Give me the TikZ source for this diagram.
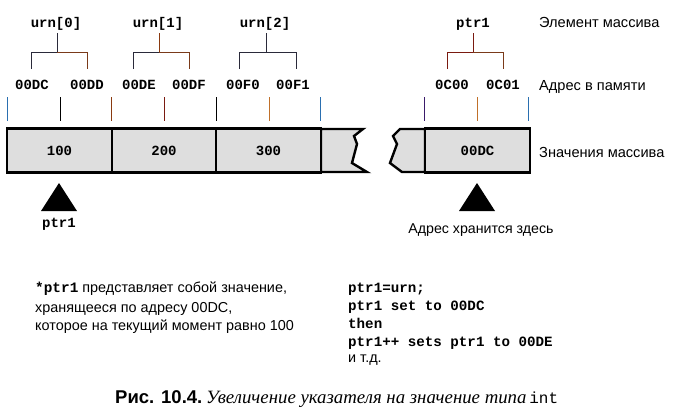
\documentclass[tikz,border=0pt]{standalone}
\usepackage{fontspec}
\setmainfont{Liberation Sans}
\setmonofont{Liberation Mono}
\newfontfamily\capserif{Liberation Serif}
\begin{document}
\begin{tikzpicture}[x=1pt,y=-1pt,
  mono/.style={font=\fontsize{14}{16}\selectfont\ttfamily\bfseries, inner sep=0pt, anchor=base},
  sans/.style={font=\fontsize{14.6}{17}\selectfont, inner sep=0pt, anchor=base west},
  body/.style={font=\fontsize{14.4}{17}\selectfont, inner sep=0pt, anchor=base west},
  codeline/.style={font=\fontsize{14.2}{17}\selectfont\ttfamily\bfseries, inner sep=0pt, anchor=base west},
  cell/.style={draw=black, line width=2.4pt, fill=cellgray, minimum width=104.5pt, minimum height=44pt, inner sep=0pt, font=\fontsize{14}{16}\selectfont\ttfamily\bfseries},
  frag/.style={draw=black, line width=2.4pt, fill=cellgray, line join=miter},
  tick/.style={line width=0.9pt},
  brk/.style={line width=0.9pt},
  tri/.style={fill=black}
]
\definecolor{cellgray}{HTML}{DEDEDE}
\definecolor{tblue}{HTML}{2A6FB0}
\definecolor{tbrown}{HTML}{8A3A10}
\definecolor{tdred}{HTML}{7A1A10}
\definecolor{torange}{HTML}{C0702A}
\definecolor{tpurple}{HTML}{3A1A6A}
\definecolor{bdark}{HTML}{2A2A3A}
\definecolor{bbrown}{HTML}{7A3A1A}

\useasboundingbox (0,0) rectangle (683,413);

% array fragments (broken ends)
\path[frag] (321,129) -- (363,129) -- (354,136) -- (357,144) -- (352,163) -- (367,172) -- (321,172) -- cycle;
\path[frag] (425,129) -- (400,129) -- (393,136) -- (397,144) -- (390,163) -- (402,172) -- (425,172) -- cycle;

% cells
\node[cell] (c0) at (59.5,150.5) {100};
\node[cell] (c1) at (164,150.5) {200};
\node[cell] (c2) at (268.5,150.5) {300};
\node[cell] (c3) at (477.5,150.5) {00DC};

% top labels
\node[mono] (u0) at (56,27) {urn[0]};
\node[mono] (u1) at (158,27) {urn[1]};
\node[mono] (u2) at (265,27) {urn[2]};
\node[mono] (p0) at (473,27) {ptr1};

% address labels
\node[mono] (a0) at (32,89) {00DC};
\node[mono] (a1) at (87,89) {00DD};
\node[mono] (a2) at (139,89) {00DE};
\node[mono] (a3) at (189,89) {00DF};
\node[mono] (a4) at (243,89) {00F0};
\node[mono] (a5) at (293,89) {00F1};
\node[mono] (a6) at (452,89) {0C00};
\node[mono] (a7) at (503,89) {0C01};

% brackets
\coordinate (b0) at (57,52);
\draw[brk,bdark] (57,33) -- (b0);
\draw[brk,bdark] (31,69) |- (b0);
\draw[brk,bbrown] (b0) -| (87,69);
\coordinate (b1) at (159,52);
\draw[brk,tbrown] (159,33) -- (b1);
\draw[brk,bdark] (133,69) |- (b1);
\draw[brk,bbrown] (b1) -| (189,69);
\coordinate (b2) at (266,52);
\draw[brk,bdark] (266,33) -- (b2);
\draw[brk,bdark] (239,69) |- (b2);
\draw[brk,bdark] (b2) -| (296,69);
\coordinate (b3) at (473,52);
\draw[brk,tdred] (473,33) -- (b3);
\draw[brk,tdred] (447,69) |- (b3);
\draw[brk,bbrown] (b3) -| (503,69);

% ticks
\draw[tick,tblue]   (7,97) -- (7,121);
\draw[tick,black]   (60,97) -- (60,121);
\draw[tick,tbrown]  (111,97) -- (111,121);
\draw[tick,tdred]   (164,97) -- (164,121);
\draw[tick,black]   (216,97) -- (216,121);
\draw[tick,torange] (269,97) -- (269,121);
\draw[tick,tblue]   (320,97) -- (320,121);
\draw[tick,tpurple] (424,97) -- (424,121);
\draw[tick,torange] (477,97) -- (477,121);
\draw[tick,tblue]   (528,97) -- (528,121);

% right-side labels
\node[sans] (l1) at (539,27) {Элемент массива};
\node[sans] (l2) at (539,90) {Адрес в памяти};
\node[sans] (l3) at (539,157) {Значения массива};

% pointer triangles
\path[tri] (59,183) -- (77,211) -- (41,211) -- cycle;
\node[mono] (pl) at (59,227) {ptr1};
\path[tri] (477,183) -- (495,211) -- (459,211) -- cycle;
\node[font=\fontsize{14.2}{17}\selectfont, inner sep=0pt, anchor=base] (ph) at (481,233) {Адрес хранится здесь};

% bottom-left text
\node[body] (t1) at (35,292) {{\ttfamily\bfseries *ptr1} представляет собой значение,};
\node[body] (t2) at (35,312) {хранящееся по адресу 00DC,};
\node[body] (t3) at (35,330) {которое на текущий момент равно 100};

% bottom-right code
\node[codeline] (k1) at (348,292) {ptr1=urn;};
\node[codeline] (k2) at (348,310) {ptr1 set to 00DC};
\node[codeline] (k3) at (348,328) {then};
\node[codeline] (k4) at (348,346) {ptr1++ sets ptr1 to 00DE};
\node[body] (k5) at (348,362) {и т.д.};

% caption
\node[inner sep=0pt, anchor=base west] (cap) at (115,403)
  {{\fontsize{18.5}{20}\selectfont\bfseries Рис. 10.4.} {\fontsize{18.8}{20}\selectfont\capserif\itshape Увеличение указателя на значение типа} {\fontsize{16}{18}\selectfont\ttfamily int}};
\end{tikzpicture}
\end{document}
